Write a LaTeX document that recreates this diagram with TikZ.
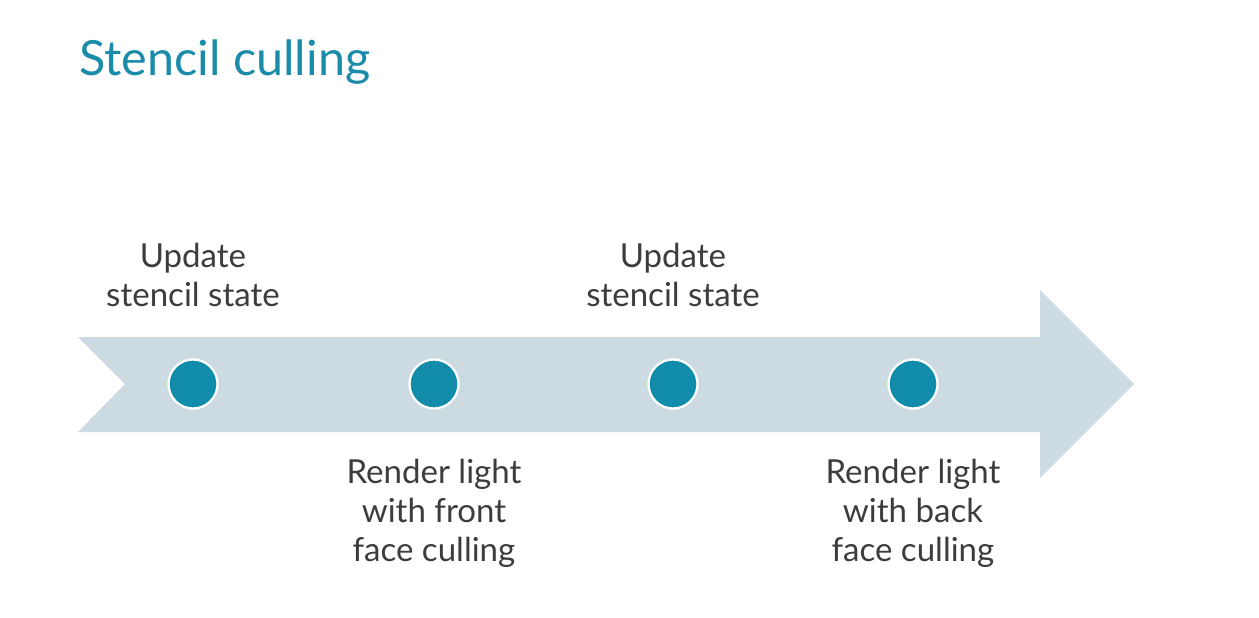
\documentclass[tikz,border=0pt]{standalone}
\usepackage{fontspec}
\setmainfont{Lato}
\usetikzlibrary{positioning}

\definecolor{bandgray}{HTML}{CCDAE1}
\definecolor{dotteal}{HTML}{118CAB}
\definecolor{titleteal}{HTML}{1A8CAA}
\definecolor{textgray}{HTML}{3C3C3C}

\tikzset{
    stepdot/.style={circle, fill=dotteal, draw=white, line width=1.6pt, minimum size=49*0.025cm, inner sep=0pt},
    steplabel/.style={align=center, text=textgray, font=\fontsize{23.5}{27.7}\selectfont}
}

\begin{document}
\begin{tikzpicture}[x=0.025cm, y=-0.025cm]
    \useasboundingbox (0,0) rectangle (1259,618);

    % Title
    \node[anchor=base west, inner sep=0pt, text=titleteal, font=\fontsize{34.5}{41}\selectfont] (title) at (79,75) {Stencil culling};

    % Timeline arrow
    \fill[bandgray] (78,337) -- (1040,337) -- (1040,290) -- (1134,384) -- (1040,478) -- (1040,432) -- (78,432) -- (125,384) -- cycle;

    % Steps on the timeline
    \node[stepdot] (dot1) at (193,384) {};
    \node[stepdot] (dot2) at (434,384) {};
    \node[stepdot] (dot3) at (673,384) {};
    \node[stepdot] (dot4) at (913,384) {};

    % Labels above and below
    \node[steplabel] (upd1) at (193,275) {Update\\stencil state};
    \node[steplabel] (rend1) at (434,513) {Render light\\with front\\face culling};
    \node[steplabel] (upd2) at (673,275) {Update\\stencil state};
    \node[steplabel] (rend2) at (913,513) {Render light\\with back\\face culling};

\end{tikzpicture}
\end{document}
